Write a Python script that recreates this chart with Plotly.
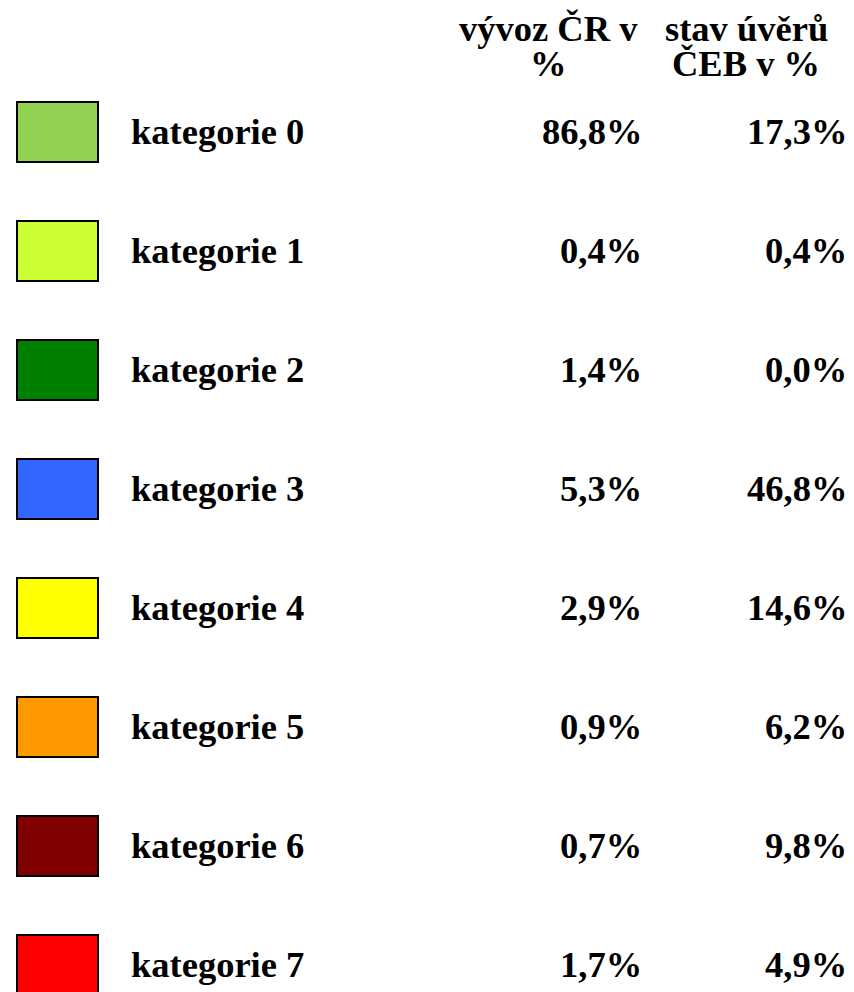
import plotly.graph_objects as go

categories = ["kategorie 0", "kategorie 1", "kategorie 2", "kategorie 3",
              "kategorie 4", "kategorie 5", "kategorie 6", "kategorie 7"]
export_pct = [86.8, 0.4, 1.4, 5.3, 2.9, 0.9, 0.7, 1.7]
loan_pct = [17.3, 0.4, 0.0, 46.8, 14.6, 6.2, 9.8, 4.9]
colors = ["#92D050", "#CCFF33", "#008000", "#3366FF",
          "#FFFF00", "#FF9900", "#800000", "#FF0000"]
header_export = ["vývoz ČR v", "%"]
header_loans = ["stav úvěrů", "ČEB v %"]

PAGE_W, PAGE_H = 854, 992
OFF = 8                      # default body margin of the html page
W, H = PAGE_W - OFF, PAGE_H - OFF
ROW0 = 131.5   # page-pixel centre of first row
STEP = 119.0   # pixel step between rows

def fmt(v):
    return f"{v:.1f}".replace(".", ",") + "%"

rows = list(range(len(categories)))
ybottom = (PAGE_H - ROW0) / STEP
ytop = (OFF - ROW0) / STEP

FONT = dict(family="Liberation Serif, Times New Roman, serif", size=36.5, color="black", weight="bold")

fig = go.Figure()
fig.add_trace(go.Bar(
    y=rows, x=[81] * len(rows), base=[16.5] * len(rows), orientation="h",
    width=60 / STEP,
    marker=dict(color=colors, line=dict(color="black", width=2)),
    hoverinfo="skip", showlegend=False,
))

ann = []
for i, (c, e, l) in enumerate(zip(categories, export_pct, loan_pct)):
    ann.append(dict(x=129, y=i, text=c, xanchor="left", yanchor="middle", showarrow=False, font=FONT))
    ann.append(dict(x=644, y=i, text=fmt(e), xanchor="right", yanchor="middle", showarrow=False, font=FONT))
    ann.append(dict(x=849, y=i, text=fmt(l), xanchor="right", yanchor="middle", showarrow=False, font=FONT))

hdr_rows = [-0.862, -0.575]
for k in range(2):
    ann.append(dict(x=548, y=hdr_rows[k], text=header_export[k], xanchor="center", yanchor="middle", showarrow=False, font=FONT))
    ann.append(dict(x=746, y=hdr_rows[k], text=header_loans[k], xanchor="center", yanchor="middle", showarrow=False, font=FONT))

fig.update_layout(
    width=W, height=H, margin=dict(l=0, r=0, t=0, b=0),
    paper_bgcolor="white", plot_bgcolor="white",
    xaxis=dict(range=[OFF, PAGE_W], visible=False, fixedrange=True),
    yaxis=dict(range=[ybottom, ytop], visible=False, fixedrange=True),
    annotations=ann, bargap=0,
)
fig.write_html("out.html", config={"displayModeBar": False})
